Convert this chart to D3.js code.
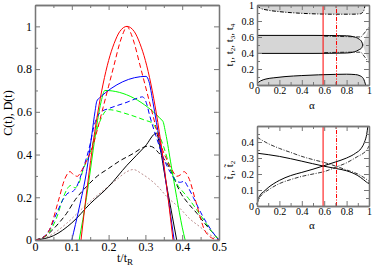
<!DOCTYPE html>
<html>
<head>
<meta charset="utf-8">
<script src="https://cdn.jsdelivr.net/npm/d3@7"></script>
<style>
  body { margin: 0; background: #fff; }
  svg text { font-family: 'Liberation Serif', 'Times New Roman', serif !important; }
</style>
</head>
<body>
<div id="chart"></div>
<script>
// ---- main panel data: C(t), D(t) vs t/tR ----
let redSolid = [[0.125,0],[0.14,0.22],[0.155,0.42],[0.17,0.59],[0.185,0.73],[0.2,0.84],[0.215,0.92],[0.23,0.975],[0.25,1.0],[0.27,0.975],[0.285,0.92],[0.3,0.84],[0.315,0.73],[0.33,0.59],[0.345,0.42],[0.36,0.22],[0.375,0]]
let redDashed = [[0,0],[0.02,0.01],[0.04,0.05],[0.063,0.18],[0.082,0.29],[0.095,0.32],[0.105,0.305],[0.115,0.298],[0.125,0.32],[0.14,0.37],[0.155,0.43],[0.17,0.52],[0.185,0.62],[0.2,0.72],[0.215,0.82],[0.23,0.92],[0.24,0.97],[0.25,1.0],[0.26,0.97],[0.27,0.92],[0.285,0.82],[0.3,0.72],[0.315,0.62],[0.33,0.52],[0.345,0.43],[0.36,0.37],[0.375,0.32],[0.385,0.298],[0.395,0.305],[0.405,0.32],[0.418,0.29],[0.437,0.18],[0.46,0.05],[0.48,0.01],[0.5,0]]
let blueSolid = [[0.1,0],[0.12,0.15],[0.14,0.32],[0.155,0.5],[0.163,0.6],[0.168,0.65],[0.175,0.665],[0.302,0.766],[0.31,0.74],[0.32,0.65],[0.33,0.55],[0.345,0.4],[0.36,0.22],[0.378,0]]
let blueDashed = [[0,0],[0.02,0.01],[0.04,0.05],[0.06,0.13],[0.08,0.2],[0.09,0.22],[0.1,0.225],[0.11,0.24],[0.13,0.33],[0.15,0.45],[0.16,0.53],[0.17,0.58],[0.18,0.6],[0.2,0.615],[0.25,0.645],[0.28,0.665],[0.292,0.67],[0.302,0.645],[0.312,0.58],[0.33,0.48],[0.35,0.38],[0.37,0.31],[0.385,0.275],[0.395,0.27],[0.405,0.275],[0.415,0.25],[0.43,0.2],[0.45,0.13],[0.47,0.07],[0.49,0.02],[0.5,0]]
let greenSolid = [[0.12,0],[0.14,0.2],[0.158,0.42],[0.17,0.56],[0.18,0.65],[0.19,0.7],[0.347,0.557],[0.355,0.5],[0.37,0.35],[0.385,0.2],[0.4,0.06],[0.408,0]]
let greenDashed = [[0,0],[0.02,0.01],[0.04,0.04],[0.06,0.11],[0.075,0.19],[0.086,0.235],[0.097,0.255],[0.108,0.245],[0.118,0.26],[0.131,0.33],[0.15,0.41],[0.165,0.5],[0.18,0.57],[0.19,0.6],[0.2,0.61],[0.25,0.59],[0.3,0.56],[0.318,0.548],[0.335,0.5],[0.35,0.435],[0.365,0.35],[0.376,0.3],[0.39,0.25],[0.4,0.23],[0.417,0.195],[0.44,0.14],[0.46,0.09],[0.48,0.04],[0.5,0]]
let blackSolid = [[0,0],[0.05,0.02],[0.1,0.08],[0.15,0.17],[0.2,0.25],[0.25,0.35],[0.3,0.44],[0.33,0.5],[0.34,0.43],[0.355,0.28],[0.37,0.14],[0.385,0]]
let blackDashed = [[0,0],[0.03,0.02],[0.06,0.07],[0.086,0.125],[0.11,0.19],[0.14,0.25],[0.17,0.3],[0.2,0.335],[0.23,0.37],[0.267,0.405],[0.29,0.43],[0.308,0.44],[0.32,0.435],[0.335,0.41],[0.35,0.38],[0.365,0.34],[0.38,0.28],[0.394,0.226],[0.417,0.17],[0.44,0.125],[0.46,0.08],[0.48,0.04],[0.5,0]]
let rosyDotted = [[0,0],[0.04,0.02],[0.086,0.078],[0.13,0.15],[0.177,0.22],[0.22,0.28],[0.25,0.32],[0.267,0.33],[0.29,0.31],[0.33,0.257],[0.36,0.2],[0.394,0.148],[0.42,0.1],[0.448,0.062],[0.475,0.025],[0.5,0]]

// ---- top right: t1..t4 vs alpha ----
let topBandLow = [[0,0.99],[0.03,0.96],[0.1,0.935],[0.2,0.917],[0.35,0.9],[0.5,0.89],[0.7,0.885],[0.85,0.885],[0.92,0.89],[0.945,0.91],[0.958,0.95],[0.965,1]]
let midUpper = [[0,0.62],[0.5,0.62],[0.8,0.615],[0.87,0.6],[0.91,0.575],[0.935,0.54],[0.945,0.5]]
let midLower = [[0,0.395],[0.5,0.395],[0.8,0.4],[0.87,0.415],[0.91,0.44],[0.935,0.465],[0.945,0.5]]
let midDashUpper = [[0.6,0.61],[0.8,0.605],[0.93,0.6],[1,0.72]]
let midDashLower = [[0.6,0.405],[0.8,0.41],[0.93,0.41],[1,0.28]]
let bottomBandTop = [[0,0.02],[0.03,0.05],[0.08,0.075],[0.15,0.09],[0.25,0.105],[0.4,0.118],[0.55,0.127],[0.7,0.133],[0.8,0.135],[0.88,0.13],[0.92,0.115],[0.95,0.08],[0.97,0]]
let rightWedge = [[0.945,0.5],[1,0.72],[1,0.28]]

// ---- bottom right: t~1, t~2 vs alpha ----
let tilde1Solid = [[0,0.33],[0.2,0.31],[0.4,0.28],[0.59,0.25],[0.7,0.235],[0.8,0.22],[0.9,0.19],[0.95,0.165],[0.98,0.148],[1,0.14]]
let tilde2Solid = [[0,0.01],[0.01,0.04],[0.03,0.07],[0.06,0.09],[0.1,0.115],[0.2,0.16],[0.3,0.19],[0.4,0.21],[0.5,0.23],[0.59,0.25],[0.7,0.275],[0.8,0.3],[0.88,0.33],[0.93,0.36],[0.96,0.4],[0.98,0.45],[0.99,0.5]]
let tilde1Dash = [[0,0.43],[0.1,0.39],[0.2,0.36],[0.3,0.335],[0.4,0.31],[0.5,0.29],[0.6,0.272],[0.716,0.246],[0.8,0.225],[0.9,0.2],[0.95,0.18],[1,0.155]]
let tilde2Dash = [[0,0.01],[0.01,0.035],[0.03,0.06],[0.06,0.08],[0.1,0.1],[0.2,0.14],[0.3,0.165],[0.4,0.185],[0.5,0.2],[0.6,0.215],[0.716,0.246],[0.8,0.27],[0.9,0.31],[0.95,0.33],[0.98,0.35],[1,0.375]]
let alphaMarks = [0.59, 0.71]

// ticks
let mainXTicks = [0, 0.1, 0.2, 0.3, 0.4, 0.5]
let mainXMinor = [0.05, 0.15, 0.25, 0.35, 0.45]
let mainYTicks = [0, 0.2, 0.4, 0.6, 0.8, 1]
let mainYMinor = [0.1, 0.3, 0.5, 0.7, 0.9]
let alphaTicks = [0, 0.2, 0.4, 0.6, 0.8, 1]
let alphaMinor = [0.1, 0.3, 0.5, 0.7, 0.9]
let trYTicks = [0, 0.2, 0.4, 0.6, 0.8, 1]
let trYMinor = [0.1, 0.3, 0.5, 0.7, 0.9]
let brYTicks = [0, 0.1, 0.2, 0.3, 0.4]
let brYMinor = [0.05, 0.15, 0.25, 0.35, 0.45]

let serif = "'Liberation Serif', 'Times New Roman', serif"

let svg = d3
  .select('#chart')
  .append('svg')
  .attr('width', 374)
  .attr('height', 271)
  .style('font-family', serif)

let frameColor = '#777'

function drawFrame(x, y, xTicks, xMinor, yTicks, yMinor, fontSize) {
  let x0 = x.range()[0], x1 = x.range()[1]
  let y0 = y.range()[0], y1 = y.range()[1]
  let fmt = d => String(d)
  let g = svg.append('g').attr('class', 'frame')

  let bottom = g.append('g').attr('transform', 'translate(0,' + y0 + ')')
  bottom.call(d3.axisBottom(x).tickValues(xTicks).tickFormat(fmt).tickSizeInner(-5).tickSizeOuter(0).tickPadding(2))
  bottom.append('g').call(d3.axisBottom(x).tickValues(xMinor).tickFormat('').tickSizeInner(-3).tickSizeOuter(0))

  let top = g.append('g').attr('transform', 'translate(0,' + y1 + ')')
  top.call(d3.axisTop(x).tickValues(xTicks).tickFormat('').tickSizeInner(-5).tickSizeOuter(0))
  top.append('g').call(d3.axisTop(x).tickValues(xMinor).tickFormat('').tickSizeInner(-3).tickSizeOuter(0))

  let left = g.append('g').attr('transform', 'translate(' + x0 + ',0)')
  left.call(d3.axisLeft(y).tickValues(yTicks).tickFormat(fmt).tickSizeInner(-5).tickSizeOuter(0).tickPadding(3))
  left.append('g').call(d3.axisLeft(y).tickValues(yMinor).tickFormat('').tickSizeInner(-3).tickSizeOuter(0))

  let right = g.append('g').attr('transform', 'translate(' + x1 + ',0)')
  right.call(d3.axisRight(y).tickValues(yTicks).tickFormat('').tickSizeInner(-5).tickSizeOuter(0))
  right.append('g').call(d3.axisRight(y).tickValues(yMinor).tickFormat('').tickSizeInner(-3).tickSizeOuter(0))

  g.selectAll('g').attr('font-family', null)
  g.selectAll('.domain').attr('stroke', frameColor).attr('stroke-width', 1.3)
  g.selectAll('.tick line').attr('stroke', frameColor)
  g.selectAll('.tick text')
    .attr('fill', '#000')
    .style('font-size', fontSize + 'px')
    .style('font-family', serif)
  return g
}

// ===== main panel =====
let xMain = d3.scaleLinear().domain([0, 0.5]).range([35, 219])
let yMain = d3.scaleLinear().domain([0, 1.1]).range([240, 5])

let mainLine = d3
  .line()
  .x(d => xMain(d[0]))
  .y(d => yMain(d[1]))
  .curve(d3.curveMonotoneX)

let mainSeries = [
  { data: rosyDotted, color: '#bc8f8f', dash: '2,2' },
  { data: blackSolid, color: '#000', dash: null },
  { data: blackDashed, color: '#000', dash: '5,3' },
  { data: greenDashed, color: '#00ff00', dash: '5,3' },
  { data: greenSolid, color: '#00ff00', dash: null },
  { data: blueDashed, color: '#0000ff', dash: '5,3' },
  { data: blueSolid, color: '#0000ff', dash: null },
  { data: redDashed, color: '#ff0000', dash: '5,3' },
  { data: redSolid, color: '#ff0000', dash: null }
]

svg
  .append('g')
  .selectAll('path')
  .data(mainSeries)
  .enter()
  .append('path')
  .attr('d', d => mainLine(d.data))
  .attr('fill', 'none')
  .attr('stroke', d => d.color)
  .attr('stroke-width', 1)
  .attr('stroke-dasharray', d => d.dash)

drawFrame(xMain, yMain, mainXTicks, mainXMinor, mainYTicks, mainYMinor, 12)

svg
  .append('text')
  .attr('transform', 'translate(12,113) rotate(-90)')
  .attr('text-anchor', 'middle')
  .style('font-size', '12px')
  .text('C(t), D(t)')

let xLabel = svg
  .append('text')
  .attr('x', 125)
  .attr('y', 262)
  .attr('text-anchor', 'middle')
  .style('font-size', '12px')
xLabel.append('tspan').text('t/t')
xLabel.append('tspan').style('font-size', '9px').attr('dy', 3).text('R')

// ===== top right panel =====
let xTR = d3.scaleLinear().domain([0, 1]).range([257, 369])
let yTR = d3.scaleLinear().domain([0, 1]).range([85, 5])

let areaTop = d3.area().x(d => xTR(d[0])).y0(yTR(1)).y1(d => yTR(d[1])).curve(d3.curveMonotoneX)
let areaBottom = d3.area().x(d => xTR(d[0])).y0(yTR(0)).y1(d => yTR(d[1])).curve(d3.curveMonotoneX)
let trLine = d3.line().x(d => xTR(d[0])).y(d => yTR(d[1])).curve(d3.curveMonotoneX)
let trLinear = d3.line().x(d => xTR(d[0])).y(d => yTR(d[1]))

let gray = '#d6d6d6'
let dashDot = '4,1.5,1,1.5'
let trg = svg.append('g')

trg.append('path').attr('d', areaTop(topBandLow)).attr('fill', gray)
trg.append('path').attr('d', areaBottom(bottomBandTop)).attr('fill', gray)
trg
  .append('path')
  .attr('d', trLine(midUpper) + 'L' + trLine(midLower.slice().reverse()).slice(1) + 'Z')
  .attr('fill', gray)
trg.append('path').attr('d', trLinear(rightWedge) + 'Z').attr('fill', gray)

trg.append('path').attr('d', trLine(topBandLow)).attr('fill', 'none').attr('stroke', '#000').attr('stroke-width', 1).attr('stroke-dasharray', dashDot)
trg.append('path').attr('d', trLine(bottomBandTop)).attr('fill', 'none').attr('stroke', '#000').attr('stroke-width', 1)
trg.append('path').attr('d', trLine(midUpper)).attr('fill', 'none').attr('stroke', '#000').attr('stroke-width', 1)
trg.append('path').attr('d', trLine(midLower)).attr('fill', 'none').attr('stroke', '#000').attr('stroke-width', 1)
trg.append('path').attr('d', trLinear(midDashUpper)).attr('fill', 'none').attr('stroke', '#000').attr('stroke-width', 0.8).attr('stroke-dasharray', dashDot)
trg.append('path').attr('d', trLinear(midDashLower)).attr('fill', 'none').attr('stroke', '#000').attr('stroke-width', 0.8).attr('stroke-dasharray', dashDot)

trg
  .selectAll('.alpha-mark')
  .data(alphaMarks)
  .enter()
  .append('line')
  .attr('class', 'alpha-mark')
  .attr('x1', d => xTR(d))
  .attr('x2', d => xTR(d))
  .attr('y1', yTR(0))
  .attr('y2', yTR(1))
  .attr('stroke', '#ff0000')
  .attr('stroke-width', 1)
  .attr('stroke-dasharray', (d, i) => (i === 0 ? null : dashDot))

drawFrame(xTR, yTR, alphaTicks, alphaMinor, trYTicks, trYMinor, 10)

svg
  .append('text')
  .attr('x', 312)
  .attr('y', 109)
  .attr('text-anchor', 'middle')
  .style('font-size', '11px')
  .text('α')

let trLabel = svg
  .append('text')
  .attr('transform', 'translate(233,45) rotate(-90)')
  .attr('text-anchor', 'middle')
  .style('font-size', '11px')
;['1', '2', '3', '4'].forEach((s, i) => {
  trLabel.append('tspan').text('t')
  trLabel.append('tspan').style('font-size', '7px').attr('dy', 2).text(s)
  trLabel.append('tspan').attr('dy', -2).text(i < 3 ? ', ' : '')
})

// ===== bottom right panel =====
let xBR = d3.scaleLinear().domain([0, 1]).range([257, 369])
let yBR = d3.scaleLinear().domain([0, 0.5]).range([206, 126])

let brLine = d3.line().x(d => xBR(d[0])).y(d => yBR(d[1])).curve(d3.curveMonotoneX)
let brSeries = [
  { data: tilde1Dash, dash: dashDot, w: 0.8 },
  { data: tilde2Dash, dash: dashDot, w: 0.8 },
  { data: tilde1Solid, dash: null, w: 1 },
  { data: tilde2Solid, dash: null, w: 1 }
]

let brg = svg.append('g')
brg
  .selectAll('path')
  .data(brSeries)
  .enter()
  .append('path')
  .attr('d', d => brLine(d.data))
  .attr('fill', 'none')
  .attr('stroke', '#000')
  .attr('stroke-width', d => d.w)
  .attr('stroke-dasharray', d => d.dash)

brg
  .selectAll('.alpha-mark')
  .data(alphaMarks)
  .enter()
  .append('line')
  .attr('class', 'alpha-mark')
  .attr('x1', d => xBR(d))
  .attr('x2', d => xBR(d))
  .attr('y1', yBR(0))
  .attr('y2', yBR(0.5))
  .attr('stroke', '#ff0000')
  .attr('stroke-width', 1)
  .attr('stroke-dasharray', (d, i) => (i === 0 ? null : dashDot))

drawFrame(xBR, yBR, alphaTicks, alphaMinor, brYTicks, brYMinor, 10)

svg
  .append('text')
  .attr('x', 312)
  .attr('y', 229)
  .attr('text-anchor', 'middle')
  .style('font-size', '11px')
  .text('α')

let brLabel = svg
  .append('text')
  .attr('transform', 'translate(233,170) rotate(-90)')
  .attr('text-anchor', 'middle')
  .style('font-size', '11px')
brLabel.append('tspan').text('t\u0303')
brLabel.append('tspan').style('font-size', '7px').attr('dy', 2).text('1')
brLabel.append('tspan').attr('dy', -2).text(', t\u0303')
brLabel.append('tspan').style('font-size', '7px').attr('dy', 2).text('2')
</script>
</body>
</html>
